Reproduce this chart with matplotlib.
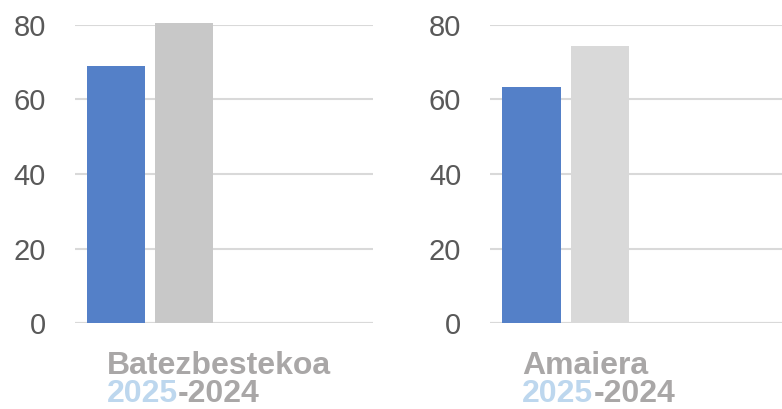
import matplotlib
matplotlib.use("Agg")
import matplotlib.pyplot as plt

# datos
paneles = ["Batezbestekoa", "Amaiera"]
valores_2025 = [69.0, 63.4]
valores_2024 = [80.5, 74.4]
anio_a = "2025"
anio_b = "-2024"
ticks_y = [0, 20, 40, 60, 80]

azul = "#5480C8"
grises = ["#C8C8C8", "#D9D9D9"]
gris_txt = "#A9A7A7"
azul_txt = "#BDD7EE"
fuente_etq = "Liberation Sans"

fig = plt.figure(figsize=(7.82, 4.09), dpi=100)
posiciones = [[0.096, 0.210, 0.381, 0.729], [0.627, 0.210, 0.373, 0.729]]

for i, nombre in enumerate(paneles):
    ax = fig.add_axes(posiciones[i])
    ax.bar([0], [valores_2025[i]], width=0.853, color=azul, clip_on=False, zorder=3)
    ax.bar([1], [valores_2024[i]], width=0.853, color=grises[i], clip_on=False, zorder=3)
    ax.set_xlim(-0.6, 3.78 if i == 0 else 3.66)
    ax.set_ylim(0, 80)
    ax.set_yticks(ticks_y)
    ax.set_xticks([])
    ax.grid(axis="y", color="#D9D9D9", linewidth=1.5, zorder=0)
    ax.axhline(0, color="#D9D9D9", linewidth=1.5, zorder=1)
    for s in ax.spines.values():
        s.set_visible(False)
    ax.tick_params(axis="y", length=0, pad=21, labelsize=21, labelcolor="#595959")
    for lab in ax.get_yticklabels():
        lab.set_fontfamily("Liberation Sans")

    # etiquetas inferiores
    x0 = posiciones[i][0] + 32 / 782
    fig.text(x0, 35 / 409, nombre, fontsize=23, fontweight="bold", color=gris_txt,
             family=fuente_etq, va="baseline", ha="left")
    t = fig.text(x0, 7 / 409, anio_a, fontsize=23, fontweight="bold", color=azul_txt,
                 family=fuente_etq, va="baseline", ha="left")
    ax.annotate(anio_b, xy=(1, 0), xycoords=t, fontsize=23, fontweight="bold",
                color=gris_txt, family=fuente_etq,
                va="bottom", ha="left", annotation_clip=False)

fig.savefig("out.png", dpi=100)
